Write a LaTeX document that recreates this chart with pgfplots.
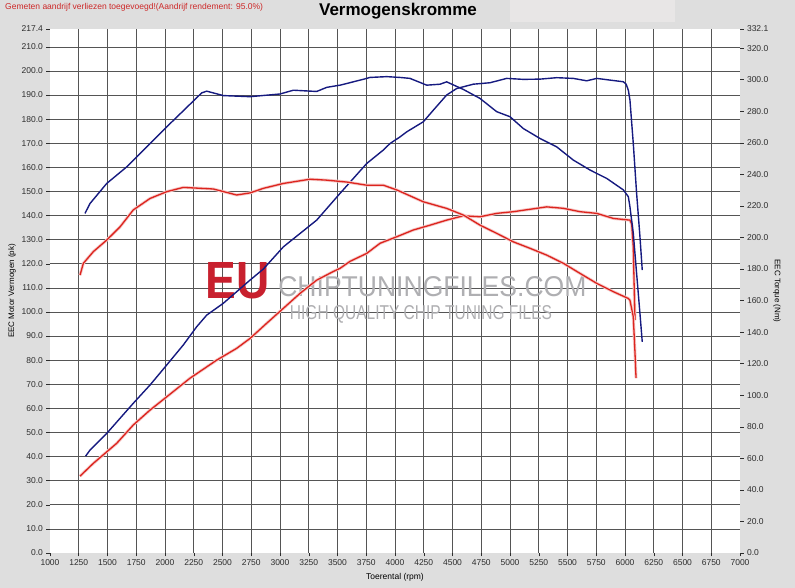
\documentclass[border=0pt]{standalone}
\usepackage{fontspec}
\setmainfont{Liberation Sans}
\usepackage{graphicx}
\usepackage{pgfplots}
\pgfplotsset{compat=1.18}
\definecolor{bg}{RGB}{222,222,222}
\definecolor{lightbox}{RGB}{232,230,230}
\definecolor{tuned}{RGB}{22,26,128}
\definecolor{stock}{RGB}{220,36,30}
\definecolor{gridc}{RGB}{85,85,85}
\definecolor{ticktext}{RGB}{45,45,45}
\definecolor{note}{RGB}{205,40,40}
\definecolor{eured}{RGB}{200,32,46}
\definecolor{wmgray}{RGB}{175,175,178}
\begin{document}
\begin{tikzpicture}[x=1pt,y=1pt]
\useasboundingbox (0,0) rectangle (795,588);
\fill[bg] (0,0) rectangle (795,588);
\fill[lightbox] (510,566) rectangle (675,588);
\node[anchor=west, inner sep=0, font=\fontsize{8.5}{10}\selectfont, text=note] at (5,581) {Gemeten aandrijf verliezen toegevoegd!(Aandrijf rendement: 95.0\%)};
\node[font=\fontsize{17}{20}\selectfont\bfseries, inner sep=0] at (398,577) {Vermogenskromme};

\begin{axis}[
  at={(50pt,35pt)}, anchor=south west,
  scale only axis, width=690pt, height=524pt,
  xmin=1000, xmax=7000, ymin=0, ymax=217.4,
  axis background/.style={fill=white},
  axis line style={draw=none},
  xtick={1250,1500,...,6750}, extra x ticks={1000,7000},
  ytick={10,20,...,210}, extra y ticks={0,217.4},
  extra x tick style={grid=none}, extra y tick style={grid=none},
  grid=major, major grid style={gridc, line width=0.6pt},
  tick pos=left, tick align=outside, major tick length=3.5pt,
  tick style={ticktext, line width=0.5pt},
  scaled ticks=false,
  /pgf/number format/assume math mode=true,
  x tick label style={font=\fontsize{8.5}{10}\selectfont, text=ticktext, /pgf/number format/1000 sep={}},
  y tick label style={font=\fontsize{8.5}{10}\selectfont, text=ticktext, /pgf/number format/fixed, /pgf/number format/fixed zerofill, /pgf/number format/precision=1},
  xlabel={Toerental (rpm)},
  xlabel style={at={(axis description cs:0.5,-0.046)}, anchor=center, font=\fontsize{8.5}{10}\selectfont},
  ylabel={EEC Motor Vermogen (pk)},
  ylabel style={at={(axis description cs:-0.055,0.5)}, anchor=center, font=\fontsize{8}{10}\selectfont},
]
% watermark
\node[inner sep=0] at (axis cs:2630,112.9) {\resizebox{64pt}{36pt}{\textcolor{eured}{\bfseries EU}}};
\node[inner sep=0] at (axis cs:4325,110.6) {\resizebox{308pt}{20pt}{\textcolor{wmgray}{CHIPTUNINGFILES.COM}}};
\node[inner sep=0] at (axis cs:4226,99.0) {\resizebox{262pt}{14pt}{\textcolor{wmgray}{HIGH QUALITY CHIP TUNING FILES}}};

% tuned power (pk)
\addplot[tuned, line width=1.4pt, line join=round] coordinates {
(1310,40.2) (1348,42.7) (1493,49.6) (1724,62.1) (1870,69.7) (2015,78.0)
(2159,86.3) (2276,93.9) (2363,98.7) (2507,103.6) (2623,108.4) (2739,113.2)
(2855,117.8) (3029,127.0) (3319,138.1) (3522,149.2) (3754,161.6) (3899,167.2)
(3957,169.9) (4043,172.6) (4101,174.7) (4246,178.9) (4333,183.7) (4449,190.0)
(4536,192.7) (4681,194.5) (4826,195.1) (4971,196.9) (5116,196.5) (5261,196.6)
(5406,197.2) (5551,196.9) (5667,195.9) (5754,196.9) (5870,196.2) (5986,195.5)
(6010,194.5) (6029,192.0) (6043,187.9) (6072,169.9) (6101,149.2) (6130,131.2)
(6150,117.4)
};
% stock power (pk)
\addplot[stock, line width=1.3pt, line join=round, preaction={draw, stock!25, line width=3pt}] coordinates {
(1261,31.9) (1377,37.2) (1580,45.5) (1724,53.1) (1870,59.3) (2015,64.8)
(2217,72.5) (2449,80.0) (2623,84.9) (2739,89.0) (2884,95.3) (3029,101.5)
(3174,107.7) (3319,113.2) (3464,116.8) (3522,118.1) (3609,121.0) (3754,124.3)
(3870,128.5) (4015,131.2) (4159,134.0) (4304,136.0) (4449,138.1) (4594,139.9)
(4739,139.5) (4884,140.9) (5029,141.6) (5174,142.6) (5319,143.6) (5464,143.0)
(5609,141.6) (5754,140.9) (5899,138.8) (6043,138.1) (6058,136.5) (6072,127.0)
(6080,110.0) (6087,96.6)
};
\end{axis}

\begin{axis}[
  at={(50pt,35pt)}, anchor=south west,
  scale only axis, width=690pt, height=524pt,
  xmin=1000, xmax=7000, ymin=0, ymax=332.1,
  axis x line=none, axis y line*=right,
  axis line style={draw=none},
  ytick={0,20,...,320}, extra y ticks={332.1},
  tick align=outside, major tick length=3.5pt,
  tick style={ticktext, line width=0.5pt},
  scaled ticks=false,
  /pgf/number format/assume math mode=true,
  y tick label style={font=\fontsize{8.5}{10}\selectfont, text=ticktext, /pgf/number format/fixed, /pgf/number format/fixed zerofill, /pgf/number format/precision=1},
  ylabel={EEC Torque (Nm)},
  ylabel style={at={(axis description cs:1.0536,0.5)}, anchor=center, rotate=180, font=\fontsize{8}{10}\selectfont},
]
% tuned torque (Nm)
\addplot[tuned, line width=1.4pt, line join=round] coordinates {
(1304,215.2) (1348,221.5) (1493,234.2) (1667,244.7) (2000,269.0) (2319,291.6)
(2363,292.7) (2507,289.9) (2739,289.2) (3000,290.9) (3116,293.3) (3319,292.5)
(3406,295.1) (3522,296.5) (3724,300.2) (3783,301.4) (3928,301.9) (4043,301.4)
(4130,300.8) (4276,296.5) (4391,297.1) (4449,298.6) (4594,293.8) (4739,288.1)
(4884,279.7) (5000,276.5) (5116,269.0) (5261,262.7) (5406,257.4) (5551,249.0)
(5696,242.7) (5841,237.4) (5986,230.1) (6029,225.8) (6043,219.4) (6072,202.6)
(6101,177.2) (6130,151.8) (6150,133.8)
};
% stock torque (Nm)
\addplot[stock, line width=1.3pt, line join=round, preaction={draw, stock!25, line width=3pt}] coordinates {
(1261,176.1) (1290,183.6) (1377,191.0) (1493,198.3) (1609,206.7) (1724,217.4)
(1870,224.7) (2015,229.0) (2159,231.7) (2420,230.7) (2623,226.9) (2739,228.2)
(2855,231.1) (3029,234.2) (3261,236.9) (3406,236.3) (3580,235.1) (3754,233.1)
(3899,233.1) (4015,230.1) (4246,222.6) (4449,218.4) (4594,214.2) (4739,207.8)
(4884,202.6) (5029,197.2) (5174,193.1) (5319,188.8) (5464,183.6) (5609,177.2)
(5754,170.9) (5899,165.6) (6029,161.3) (6043,160.2) (6072,149.7) (6085,130.0)
(6096,110.8)
};
\end{axis}
\end{tikzpicture}
\end{document}
